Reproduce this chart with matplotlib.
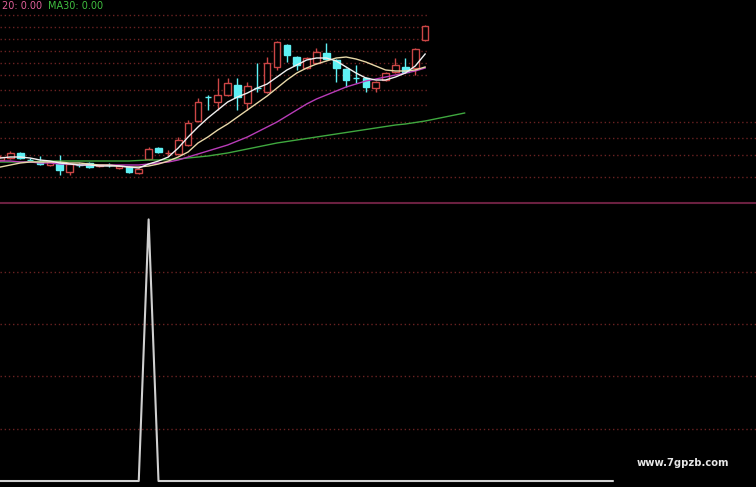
import numpy as np
import matplotlib
matplotlib.use("Agg")
import matplotlib.pyplot as plt

# candle data (open, high, low, close), one entry per bar
opens = [12.00, 12.10, 12.35, 12.00, 11.95, 11.75, 11.85, 11.40, 11.75, 11.85,
         11.70, 11.75, 11.60, 11.65, 11.35, 12.05, 12.60, 12.33, 12.30, 12.75,
         13.95, 15.15, 14.90, 15.25, 15.75, 14.85, 15.60, 15.40, 16.65, 17.75,
         17.15, 16.60, 16.85, 17.35, 17.00, 16.55, 16.10, 16.10, 15.60, 16.00,
         16.40, 16.65, 16.60, 18.00]
highs = [12.25, 12.45, 12.40, 12.10, 12.20, 11.95, 12.25, 11.85, 11.85, 11.90,
         11.80, 11.85, 11.70, 11.70, 11.60, 12.65, 12.63, 12.50, 13.15, 14.00,
         15.10, 15.25, 16.10, 16.10, 16.10, 15.90, 16.85, 17.15, 17.95, 17.80,
         17.20, 17.15, 17.60, 17.85, 17.05, 16.60, 16.75, 16.15, 15.95, 16.40,
         17.10, 17.10, 17.60, 18.75]
lows = [11.95, 12.05, 12.05, 11.90, 11.75, 11.70, 11.25, 11.25, 11.65, 11.60,
        11.65, 11.65, 11.55, 11.35, 11.30, 12.00, 12.35, 12.20, 12.25, 12.70,
        13.90, 14.50, 14.50, 15.20, 14.50, 14.50, 15.40, 15.35, 16.50, 16.90,
        16.50, 16.55, 16.80, 17.00, 15.90, 15.65, 15.85, 15.40, 15.40, 15.95,
        16.35, 16.35, 16.25, 17.95]
closes = [12.15, 12.35, 12.10, 11.98, 11.80, 11.90, 11.50, 11.80, 11.73, 11.65,
          11.75, 11.74, 11.68, 11.40, 11.55, 12.55, 12.40, 12.35, 13.00, 13.85,
          14.90, 15.13, 15.25, 15.85, 15.15, 15.70, 15.58, 16.85, 17.90, 17.25,
          16.75, 17.10, 17.40, 17.05, 16.60, 16.00, 16.08, 15.65, 15.90, 16.35,
          16.75, 16.40, 17.55, 18.70]

# moving averages as shown on the chart
ma5 = [12.10, 12.15, 12.15, 12.10, 12.00, 11.95, 11.85, 11.80, 11.75, 11.75,
       11.70, 11.70, 11.70, 11.65, 11.60, 11.80, 11.95, 12.15, 12.60, 13.15,
       13.65, 14.10, 14.50, 14.90, 15.15, 15.35, 15.60, 15.80, 16.15, 16.50,
       16.75, 17.00, 17.10, 17.10, 16.95, 16.65, 16.35, 16.10, 16.00, 16.00,
       16.15, 16.35, 16.70, 17.30]
ma10 = [11.65, 11.75, 11.85, 11.90, 11.90, 11.90, 11.90, 11.85, 11.85, 11.80,
        11.75, 11.75, 11.70, 11.65, 11.65, 11.70, 11.80, 11.95, 12.15, 12.40,
        12.85, 13.15, 13.50, 13.80, 14.15, 14.50, 14.85, 15.20, 15.60, 16.00,
        16.35, 16.60, 16.80, 16.95, 17.10, 17.15, 17.05, 16.90, 16.70, 16.50,
        16.45, 16.45, 16.50, 16.65]
ma20 = [11.95, 11.95, 11.90, 11.90, 11.85, 11.85, 11.80, 11.80, 11.75, 11.75,
        11.75, 11.75, 11.75, 11.75, 11.75, 11.80, 11.85, 11.90, 12.00, 12.15,
        12.30, 12.45, 12.60, 12.75, 12.95, 13.15, 13.40, 13.65, 13.90, 14.20,
        14.50, 14.80, 15.05, 15.25, 15.45, 15.65, 15.80, 15.95, 16.05, 16.15,
        16.25, 16.35, 16.45, 16.60]
ma60 = [11.90, 11.90, 11.90, 11.925, 11.925, 11.95, 11.95, 11.95, 11.95, 11.95,
        11.95, 11.95, 11.95, 11.95, 11.975, 12.00, 12.00, 12.025, 12.05, 12.10,
        12.15, 12.20, 12.275, 12.35, 12.45, 12.55, 12.65, 12.75, 12.85, 12.925,
        13.00, 13.075, 13.15, 13.225, 13.30, 13.375, 13.45, 13.525, 13.60, 13.675,
        13.75, 13.80, 13.875, 13.95, 14.05, 14.15, 14.25, 14.35]

# lower indicator: zero everywhere, one signal bar
signal = [0] * 63
signal[15] = 100

grid_short = [19.25, 18.65, 18.05, 17.45, 16.85, 16.25, 15.5, 14.75]
grid_full = [13.9, 13.1, 12.25, 11.15]
grid_low = [20, 40, 60, 80]

RED = "#cc4646"
CYAN = "#5ff0f4"
GRID = "#6a2222"
dots = (0, (1, 2))

fig = plt.figure(figsize=(7.56, 4.87), dpi=100, facecolor="black")
ax = fig.add_axes([0, 284 / 487, 1, 203 / 487], facecolor="black")
ax2 = fig.add_axes([0, 0, 1, 282 / 487], facecolor="black")
xlim = (-0.05, -0.05 + 756 / 9.875)
for a in (ax, ax2):
    a.set_xlim(*xlim)
    a.set_axis_off()
ax.set_ylim(9.85, 20)
ax2.set_ylim(-2.29, 105.5)

ax.hlines(grid_short, -0.05, 43.2, colors=GRID, linestyles=dots, lw=1)
for g in grid_full:
    ax.axhline(g, color=GRID, ls=dots, lw=1)
for g in grid_low:
    ax2.axhline(g, color=GRID, ls=dots, lw=1)

# candles
idx = np.arange(len(opens))
for i in idx:
    o, h, l, c = opens[i], highs[i], lows[i], closes[i]
    up = c >= o
    col = RED if up else CYAN
    ax.vlines(i, l, h, color=col, lw=1, zorder=2)
    ax.bar(i, max(abs(c - o), 0.02), bottom=min(o, c), width=0.68,
           facecolor="black" if up else CYAN, edgecolor=col, lw=1, zorder=3)

ax.plot(np.arange(len(ma60)), ma60, color="#3fa83f", lw=1, zorder=4)
ax.plot(idx, ma20, color="#b83cb8", lw=1, zorder=4)
ax.plot(idx, ma10, color="#e8d8a8", lw=1, zorder=4)
ax.plot(idx, ma5, color="#f0f0f0", lw=1, zorder=4)

# separator between panels
fig.add_artist(plt.Line2D([0, 1], [1 - 203 / 487] * 2, color="#6a2040", lw=1.5))

ax2.plot(np.arange(len(signal)), signal, color="#d0d0d0", lw=1.5)

fig.text(0.002, 1 - 1 / 487, "20: 0.00", color="#e0609a", fontsize=7,
         va="top", ha="left")
fig.text(48 / 756, 1 - 1 / 487, "MA30: 0.00", color="#40c040", fontsize=7,
         va="top", ha="left")
fig.text(637 / 756, 1 - 463 / 487, "www.7gpzb.com", color="#e6e6e6",
         fontsize=7.2, fontweight="bold", va="center", ha="left")

fig.savefig("out.png", dpi=100, facecolor="black")
